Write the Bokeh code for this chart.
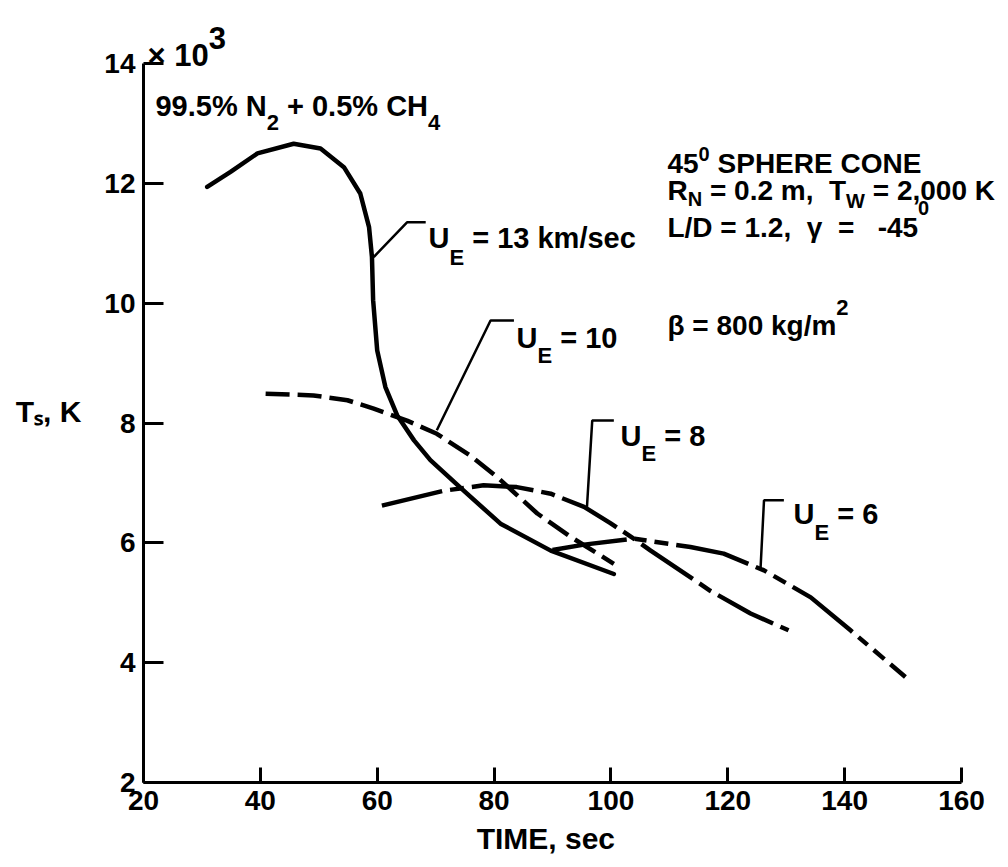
from bokeh.plotting import figure
from bokeh.models import Label, Range1d, FixedTicker
from bokeh.embed import file_html
from bokeh.resources import INLINE

# ---- data (temperature in thousands of K) ----
u13_t = [30.9, 34.9, 39.5, 45.7, 50.3, 54.3, 57.1, 58.6, 59.1, 59.3, 60.0, 61.4, 63.4, 66.3, 69.1, 74.8, 81.1, 89.7, 100.5]
u13_T = [11.94, 12.19, 12.50, 12.66, 12.58, 12.27, 11.83, 11.27, 10.77, 10.05, 9.21, 8.60, 8.13, 7.71, 7.38, 6.87, 6.32, 5.87, 5.48]

u10_t = [40.9, 49.1, 54.9, 59.4, 65.1, 70.2, 76.0, 80.5, 87.4, 93.1, 100.5]
u10_T = [8.49, 8.46, 8.38, 8.24, 8.04, 7.82, 7.45, 7.10, 6.49, 6.10, 5.65]

u8_t = [60.8, 71.4, 78.2, 83.9, 89.7, 95.4, 99.9, 103.9, 106.8, 117.0, 123.9, 130.4]
u8_T = [6.62, 6.87, 6.96, 6.93, 6.82, 6.60, 6.33, 6.07, 5.87, 5.20, 4.82, 4.54]

u6_t = [90.0, 95.4, 103.9, 113.6, 119.3, 126.2, 134.2, 141.0, 150.4]
u6_T = [5.88, 5.97, 6.07, 5.93, 5.82, 5.54, 5.09, 4.54, 3.76]

x_ticks = [20, 40, 60, 80, 100, 120, 140, 160]
y_ticks = [2, 4, 6, 8, 10, 12, 14]

# leader lines for the curve labels (annotation geometry)
lead13 = ([59.4, 65.1, 68.3], [10.77, 11.35, 11.35])
lead10 = ([70.2, 79.4, 83.4], [7.88, 9.71, 9.71])
lead8 = ([95.9, 96.8, 100.5], [6.60, 8.04, 8.04])
lead6 = ([125.6, 126.2, 129.6], [5.56, 6.71, 6.71])

FONT = "Liberation Sans"

# frame: x 20..160 drawn over 818 px, y 2..14 over 719 px; frame extends right/up for the notes
PX_X = 818 / 140.0
PX_Y = 719 / 12.0
W_FIG, H_FIG = 1006, 867
LEFT, BOTTOM = 143, 85
x_max = 20 + (W_FIG - LEFT) / PX_X
y_max = 2 + (H_FIG - BOTTOM) / PX_Y

p = figure(width=W_FIG, height=H_FIG, x_range=Range1d(20, x_max), y_range=Range1d(2, y_max),
           output_backend="svg", toolbar_location=None,
           min_border_left=LEFT, min_border_right=0, min_border_top=0, min_border_bottom=BOTTOM)
p.outline_line_color = None
p.grid.visible = False

for ax, ticks, tin, bnd in ((p.xaxis, x_ticks, 15, (20, 160)), (p.yaxis, y_ticks, 20, (2, 14))):
    ax.ticker = FixedTicker(ticks=ticks)
    ax.bounds = bnd
    ax.axis_line_width = 3
    ax.axis_line_color = "black"
    ax.major_tick_line_width = 3
    ax.major_tick_line_color = "black"
    ax.major_tick_in = tin
    ax.major_tick_out = 0
    ax.minor_tick_line_color = None
    ax.major_label_text_font = FONT
    ax.major_label_text_font_size = "28px"
    ax.major_label_text_font_style = "bold"
    ax.major_label_text_color = "black"
    ax.axis_label_text_font = FONT
    ax.axis_label_text_font_style = "bold"
    ax.axis_label_text_color = "black"
    ax.axis_label_text_font_size = "30px"
p.xaxis.major_label_standoff = 8
p.yaxis.major_label_standoff = 8
p.xaxis.axis_label = "TIME, sec" + "\u00a0" * 7
p.xaxis.axis_label_standoff = 9
p.yaxis.axis_label = "\nT\u209b, K"
p.yaxis.axis_label_orientation = "horizontal"
p.yaxis.axis_label_standoff = 20

LW = 4.5
p.line(u13_t, u13_T, line_width=LW, color="black", line_cap="round", line_join="round")
p.line(u10_t, u10_T, line_width=LW, color="black", line_dash="24 8", line_join="round")
p.line(u8_t, u8_T, line_width=LW, color="black", line_dash="62 8 14 8", line_join="round")
p.line(u6_t, u6_T, line_width=LW, color="black", line_dash="75 8 12 8 14 8", line_join="round")

for lx, ly in (lead13, lead10, lead8, lead6):
    p.line(lx, ly, line_width=2.5, color="black")

# approximate advance widths (em) of a bold Arial-metric font
CW = {' ': .278, '%': .889, '+': .584, ',': .278, '-': .333, '.': .278, '/': .278, '=': .584,
      'C': .722, 'D': .722, 'E': .667, 'H': .722, 'I': .278, 'K': .722, 'L': .611, 'M': .833,
      'N': .722, 'O': .778, 'P': .667, 'R': .722, 'S': .667, 'T': .611, 'U': .722, 'W': .944,
      'c': .556, 'e': .556, 'g': .611, 'k': .556, 'm': .889, 's': .556, '\u00d7': .584,
      '\u03b2': .611, '\u03b3': .556}


def tw(s, size):
    return sum(CW.get(c, .556) for c in s) * size


def rich(x, y, pieces):
    """pieces: (text, font px, baseline shift in px, downward positive)"""
    for txt, size, dy in pieces:
        stripped = txt.lstrip(" ")
        x += tw(txt[:len(txt) - len(stripped)], size) / PX_X
        p.add_layout(Label(x=x, y=y - dy / PX_Y, text=stripped, text_font=FONT,
                           text_font_size=f"{size}px", text_font_style="bold",
                           text_color="black", text_baseline="alphabetic", text_align="left"))
        x += tw(stripped, size) / PX_X


rich(20.68, 14.133, [("\u00d7 10", 31, 0), ("3", 31, -18)])
rich(22.05, 13.298, [("99.5% N", 29, 0), ("2", 22, 17), (" + 0.5% CH", 29, 0), ("4", 22, 17)])

rich(109.68, 12.330, [("45", 28, 0), ("0", 20, -10), (" SPHERE CONE", 28, 0)])
rich(109.68, 11.880, [("R", 28, 0), ("N", 20, 8), (" = 0.2 m,", 28, 0), ("  T", 28, 0), ("W", 20, 10), (" = 2,000 K", 28, 0)])
rich(109.68, 11.262, [("L/D = 1.2,", 28, 0), ("  \u03b3", 28, 0), ("  =", 28, 0), ("   -45", 28, 0), ("0", 20, -20)])
rich(109.68, 9.627, [("\u03b2 = 800 kg/m", 28, 0), ("2", 22, -18)])

rich(68.78, 11.095, [("U", 29, 0), ("E", 22, 20), (" = 13 km/sec", 29, 0)])
rich(83.84, 9.426, [("U", 29, 0), ("E", 22, 18), (" = 10", 29, 0)])
rich(101.64, 7.791, [("U", 29, 0), ("E", 22, 18), (" = 8", 29, 0)])
rich(131.24, 6.489, [("U", 29, 0), ("E", 22, 19), (" = 6", 29, 0)])

open("out.html", "w").write(file_html(p, INLINE))
